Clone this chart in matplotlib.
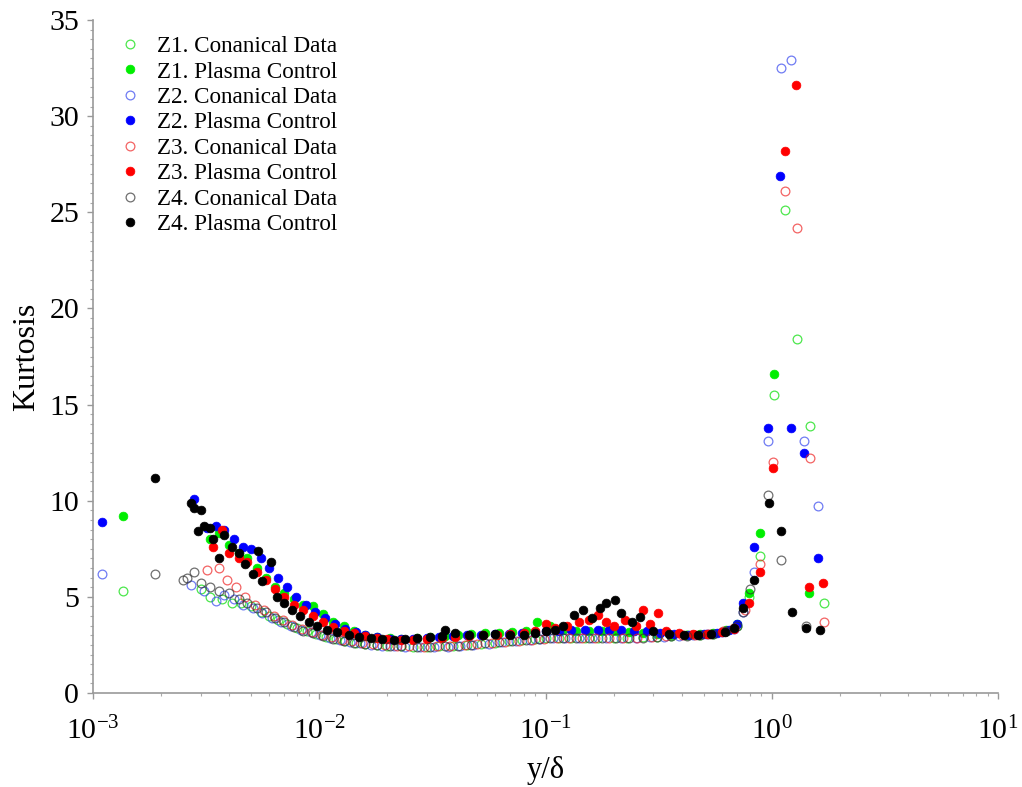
import matplotlib
matplotlib.use("Agg")
import matplotlib.pyplot as plt
from matplotlib.ticker import MultipleLocator, LogLocator, NullFormatter

plt.rcParams['font.family'] = ['Liberation Serif', 'DejaVu Serif']
plt.rcParams['mathtext.fontset'] = 'custom'
plt.rcParams['mathtext.rm'] = 'Liberation Serif'
plt.rcParams['mathtext.it'] = 'Liberation Serif:italic'

# ---------------- data ----------------
z1_can_x = [0.00136, 0.0030, 0.0033, 0.0037, 0.0041, 0.0045, 0.005, 0.0055, 0.006, 0.0066, 0.0072, 0.008, 0.0088,
            0.0097, 0.0107, 0.0118, 0.013, 0.0145, 0.016, 0.018, 0.02, 0.023, 0.026, 0.03, 0.034, 0.039, 0.045,
            0.052, 0.06, 0.069, 0.079, 0.09, 0.1, 0.115, 0.13, 0.15, 0.17, 0.2, 0.23, 0.27, 0.31, 0.36, 0.42,
            0.48, 0.55, 0.63, 0.7, 0.79, 0.887, 1.02, 1.15, 1.29, 1.476, 1.71]
z1_can_y = [5.3, 5.4, 5.0, 4.9, 4.7, 4.7, 4.5, 4.2, 4.0, 3.8, 3.6, 3.4, 3.2,
            3.05, 2.9, 2.8, 2.7, 2.6, 2.55, 2.5, 2.45, 2.42, 2.4, 2.4, 2.42, 2.45, 2.5,
            2.55, 2.62, 2.68, 2.75, 2.8, 2.85, 2.88, 2.88, 2.88, 2.88, 2.88, 2.88, 2.9, 2.92, 2.95, 3.0,
            3.02, 3.08, 3.2, 3.5, 5.0, 7.1, 15.5, 25.1, 18.4, 13.9, 4.7]

z1_pla_x = [0.00136, 0.0033, 0.0036, 0.004, 0.0044, 0.0048, 0.0053, 0.0058, 0.0064, 0.007, 0.0077, 0.0085, 0.0094,
            0.0104, 0.0115, 0.0128, 0.0142, 0.016, 0.018, 0.0205, 0.023, 0.027, 0.031, 0.036, 0.041, 0.047,
            0.054, 0.062, 0.071, 0.082, 0.092, 0.105, 0.12, 0.137, 0.155, 0.178, 0.205, 0.235, 0.27, 0.31,
            0.36, 0.42, 0.48, 0.55, 0.63, 0.7, 0.793, 0.887, 1.02, 1.46]
z1_pla_y = [9.2, 8.0, 8.3, 7.7, 7.3, 7.0, 6.5, 6.0, 5.5, 5.2, 4.9, 4.6, 4.5,
            4.1, 3.7, 3.5, 3.2, 3.0, 2.9, 2.85, 2.8, 2.85, 2.9, 2.95, 3.0, 3.05,
            3.1, 3.1, 3.15, 3.2, 3.7, 3.5, 3.3, 3.25, 3.25, 3.2, 3.2, 3.15, 3.1, 3.05,
            3.0, 3.0, 3.05, 3.1, 3.3, 3.6, 5.2, 8.3, 16.6, 5.2]

z2_can_x = [0.0011, 0.0027, 0.0031, 0.0035, 0.0038, 0.0042, 0.0046, 0.0051, 0.0056, 0.0062, 0.0068, 0.0075, 0.0083,
            0.0092, 0.0101, 0.0112, 0.0124, 0.0137, 0.0152, 0.017, 0.019, 0.0215, 0.024, 0.028, 0.032, 0.037,
            0.042, 0.048, 0.056, 0.064, 0.074, 0.085, 0.095, 0.108, 0.122, 0.14, 0.16, 0.185, 0.215, 0.25,
            0.29, 0.335, 0.39, 0.45, 0.52, 0.6, 0.68, 0.746, 0.835, 0.962, 1.099, 1.216, 1.388, 1.60]
z2_can_y = [6.2, 5.6, 5.3, 4.8, 5.1, 4.9, 4.6, 4.4, 4.15, 3.9, 3.7, 3.5, 3.3,
            3.15, 3.0, 2.88, 2.75, 2.65, 2.58, 2.52, 2.47, 2.42, 2.4, 2.38, 2.38, 2.4,
            2.45, 2.5, 2.57, 2.63, 2.7, 2.77, 2.82, 2.85, 2.85, 2.85, 2.85, 2.85, 2.85, 2.87,
            2.9, 2.92, 2.97, 3.0, 3.05, 3.15, 3.35, 4.2, 6.3, 13.1, 32.5, 32.9, 13.1, 9.7]

z2_pla_x = [0.0011, 0.0028, 0.0032, 0.0035, 0.0038, 0.0042, 0.0046, 0.005, 0.0055, 0.006, 0.0066, 0.0072, 0.0079,
            0.0087, 0.0096, 0.0106, 0.0117, 0.013, 0.0145, 0.016, 0.018, 0.0205, 0.023, 0.026, 0.03, 0.034,
            0.039, 0.045, 0.052, 0.06, 0.069, 0.079, 0.09, 0.1, 0.115, 0.13, 0.15, 0.17, 0.19, 0.215,
            0.245, 0.28, 0.32, 0.37, 0.43, 0.5, 0.57, 0.65, 0.7, 0.746, 0.835, 0.962, 1.09, 1.216, 1.388, 1.60]
z2_pla_y = [8.9, 10.1, 8.6, 8.7, 8.5, 8.0, 7.6, 7.5, 7.0, 6.5, 6.0, 5.5, 5.0,
            4.6, 4.2, 3.9, 3.6, 3.35, 3.15, 3.0, 2.9, 2.82, 2.8, 2.82, 2.85, 2.9,
            2.95, 3.0, 3.0, 3.05, 3.05, 3.1, 3.15, 3.2, 3.25, 3.3, 3.3, 3.3, 3.3, 3.28,
            3.25, 3.2, 3.1, 3.05, 3.0, 3.05, 3.1, 3.3, 3.6, 4.7, 7.6, 13.8, 26.9, 13.8, 12.5, 7.0]

z3_can_x = [0.0032, 0.0036, 0.0039, 0.0043, 0.0047, 0.0052, 0.0057, 0.0063, 0.0069, 0.0076, 0.0084, 0.0093, 0.0103,
            0.0114, 0.0126, 0.014, 0.0155, 0.0172, 0.0195, 0.022, 0.025, 0.029, 0.033, 0.038, 0.044, 0.05,
            0.058, 0.066, 0.076, 0.087, 0.098, 0.112, 0.127, 0.145, 0.165, 0.19, 0.22, 0.255, 0.295, 0.34,
            0.4, 0.46, 0.53, 0.61, 0.68, 0.76, 0.887, 1.01, 1.15, 1.29, 1.476, 1.71]
z3_can_y = [6.4, 6.5, 5.9, 5.5, 5.0, 4.6, 4.3, 4.0, 3.8, 3.55, 3.35, 3.15, 3.0,
            2.9, 2.78, 2.68, 2.6, 2.53, 2.48, 2.44, 2.42, 2.4, 2.42, 2.45, 2.5, 2.55,
            2.6, 2.66, 2.72, 2.78, 2.82, 2.86, 2.87, 2.87, 2.87, 2.87, 2.87, 2.88, 2.9, 2.95,
            3.0, 3.02, 3.08, 3.2, 3.4, 4.3, 6.7, 12.0, 26.1, 24.2, 12.2, 3.7]

z3_pla_x = [0.0034, 0.0037, 0.004, 0.0044, 0.0048, 0.0053, 0.0058, 0.0064, 0.007, 0.0077, 0.0085, 0.0094, 0.0104,
            0.0115, 0.0128, 0.0142, 0.016, 0.018, 0.02, 0.023, 0.026, 0.03, 0.035, 0.04, 0.046, 0.053,
            0.061, 0.07, 0.08, 0.09, 0.1, 0.11, 0.125, 0.14, 0.155, 0.17, 0.185, 0.2, 0.225, 0.25,
            0.27, 0.29, 0.314, 0.34, 0.39, 0.45, 0.52, 0.6, 0.68, 0.793, 0.887, 1.01, 1.146, 1.28, 1.46, 1.69]
z3_pla_y = [7.6, 8.5, 7.3, 7.0, 6.8, 6.3, 5.9, 5.4, 5.0, 4.6, 4.3, 4.0, 3.7,
            3.45, 3.25, 3.1, 2.95, 2.85, 2.8, 2.75, 2.75, 2.8, 2.85, 2.9, 2.95, 3.0,
            3.0, 3.05, 3.1, 3.2, 3.6, 3.4, 3.5, 3.7, 3.8, 4.05, 3.7, 3.5, 3.8, 3.5,
            4.3, 3.6, 4.15, 3.2, 3.1, 3.05, 3.05, 3.15, 3.35, 4.7, 6.3, 11.7, 28.2, 31.6, 5.5, 5.7]

z4_can_x = [0.00188, 0.0025, 0.0026, 0.0028, 0.0030, 0.0033, 0.0036, 0.004, 0.0044, 0.0048, 0.0053, 0.0058, 0.0064,
            0.007, 0.0077, 0.0085, 0.0094, 0.0104, 0.0115, 0.0128, 0.0142, 0.016, 0.018, 0.0205, 0.023, 0.027,
            0.031, 0.036, 0.041, 0.047, 0.054, 0.062, 0.071, 0.082, 0.094, 0.105, 0.12, 0.137, 0.155, 0.178,
            0.205, 0.235, 0.27, 0.31, 0.36, 0.42, 0.48, 0.55, 0.63, 0.7, 0.746, 0.80, 0.962, 1.099, 1.41]
z4_can_y = [6.2, 5.9, 6.0, 6.3, 5.7, 5.5, 5.3, 5.2, 4.9, 4.7, 4.4, 4.2, 3.9,
            3.7, 3.45, 3.25, 3.1, 2.95, 2.82, 2.7, 2.62, 2.55, 2.5, 2.45, 2.42, 2.4,
            2.4, 2.42, 2.46, 2.52, 2.58, 2.64, 2.7, 2.76, 2.8, 2.84, 2.86, 2.86, 2.86, 2.86,
            2.86, 2.86, 2.88, 2.9, 2.94, 2.98, 3.02, 3.07, 3.2, 3.5, 4.2, 5.4, 10.3, 6.9, 3.5]

z4_pla_x = [0.00188, 0.0027, 0.0028, 0.0029, 0.003, 0.0031, 0.0033, 0.0034, 0.0036, 0.0038, 0.0041, 0.0044, 0.0047,
            0.0051, 0.00536, 0.0056, 0.0061, 0.0065, 0.007, 0.0076, 0.0082, 0.009, 0.0098, 0.0108, 0.012, 0.0135,
            0.015, 0.017, 0.019, 0.0215, 0.024, 0.027, 0.031, 0.035, 0.036, 0.04, 0.046, 0.053, 0.06, 0.07,
            0.08, 0.09, 0.1, 0.11, 0.12, 0.134, 0.147, 0.16, 0.175, 0.185, 0.203, 0.215, 0.24, 0.262, 0.3,
            0.35, 0.41, 0.47, 0.54, 0.62, 0.68, 0.746, 0.835, 0.972, 1.099, 1.23, 1.41, 1.63]
z4_pla_y = [11.2, 9.9, 9.6, 8.4, 9.5, 8.7, 8.6, 8.0, 7.0, 8.2, 7.6, 7.3, 6.7,
            6.2, 7.4, 5.8, 6.8, 5.0, 4.7, 4.3, 4.0, 3.7, 3.5, 3.3, 3.15, 3.0,
            2.9, 2.85, 2.8, 2.75, 2.8, 2.85, 2.9, 2.95, 3.3, 3.1, 3.0, 3.0, 3.05, 3.0,
            3.0, 3.1, 3.2, 3.3, 3.5, 4.05, 4.3, 3.9, 4.4, 4.7, 4.84, 4.15, 3.7, 3.95, 3.2,
            3.05, 3.0, 3.0, 3.05, 3.15, 3.4, 4.4, 5.9, 9.9, 8.4, 4.2, 3.4, 3.3]

series = [
    ("Z1. Conanical Data", z1_can_x, z1_can_y, "#00dd00", False),
    ("Z1. Plasma Control", z1_pla_x, z1_pla_y, "#00ee00", True),
    ("Z2. Conanical Data", z2_can_x, z2_can_y, "#3344ee", False),
    ("Z2. Plasma Control", z2_pla_x, z2_pla_y, "#0000ff", True),
    ("Z3. Conanical Data", z3_can_x, z3_can_y, "#ee2222", False),
    ("Z3. Plasma Control", z3_pla_x, z3_pla_y, "#ff0000", True),
    ("Z4. Conanical Data", z4_can_x, z4_can_y, "#333333", False),
    ("Z4. Plasma Control", z4_pla_x, z4_pla_y, "#000000", True),
]

x_ticks = [1e-3, 1e-2, 1e-1, 1e0, 1e1]
y_ticks = [0, 5, 10, 15, 20, 25, 30, 35]

# ---------------- plot ----------------
fig = plt.figure(figsize=(10.22, 7.87), dpi=100)
ax = fig.add_axes([93/1022, 1 - 693/787, (998 - 93)/1022, (693 - 20)/787])

for label, xs, ys, col, filled in series:
    if filled:
        ax.plot(xs, ys, linestyle='none', marker='o', markersize=6.3,
                markerfacecolor=col, markeredgecolor=col, markeredgewidth=0.5, label=label)
    else:
        ax.plot(xs, ys, linestyle='none', marker='o', markersize=6.3,
                markerfacecolor='none', markeredgecolor=col, markeredgewidth=0.9,
                alpha=0.7, label=label)

ax.set_xscale('log')
ax.set_xlim(1e-3, 1e1)
ax.set_ylim(0, 35)
ax.set_xticks(x_ticks)
ax.set_yticks(y_ticks)
ax.yaxis.set_minor_locator(MultipleLocator(0.5))
ax.xaxis.set_minor_locator(LogLocator(base=10, subs=[2, 3, 4, 5, 6, 7, 8, 9]))
ax.xaxis.set_minor_formatter(NullFormatter())

for s in ['top', 'right']:
    ax.spines[s].set_visible(False)
for s in ['left', 'bottom']:
    ax.spines[s].set_color('#999999')
    ax.spines[s].set_linewidth(1.2)

ax.tick_params(axis='both', which='major', direction='out', length=4, width=1,
               color='#999999', labelsize=21.5)
ax.tick_params(axis='y', which='major', pad=6)
ax.tick_params(axis='x', which='major', pad=13)
ax.tick_params(axis='both', which='minor', direction='out', length=2, width=0.8, color='#aaaaaa')

ax.set_xlabel('y/δ', fontsize=22, labelpad=8)
ax.set_ylabel('Kurtosis', fontsize=23, labelpad=6)

leg = ax.legend(loc='upper left', bbox_to_anchor=(0.01, 0.997), frameon=False,
                fontsize=16.7, handlelength=1.2, handletextpad=0.55, labelspacing=0.18,
                borderaxespad=0.2)

fig.savefig('out.png', dpi=100)
